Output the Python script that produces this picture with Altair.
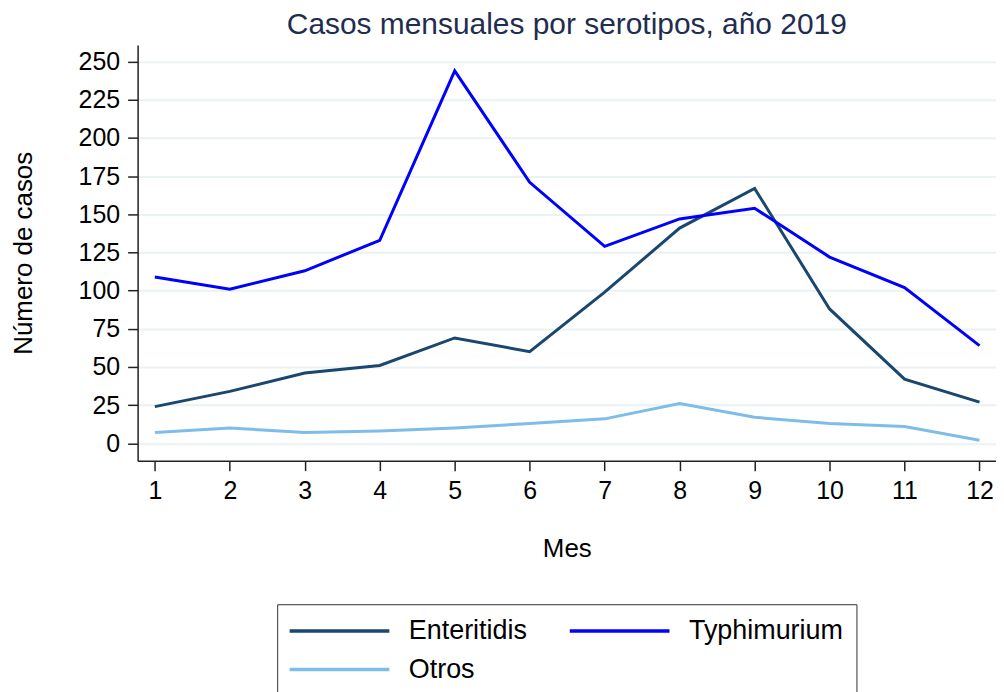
import altair as alt
import pandas as pd

months = list(range(1, 13))
series_names = ["Enteritidis", "Typhimurium", "Otros"]
enteritidis = [24, 34, 46, 51, 69, 60, 99, 141, 167, 88, 42, 27]
typhimurium = [109, 101, 113, 133, 244, 171, 129, 147, 154, 122, 102, 64]
otros = [7, 10, 7, 8, 10, 13, 16, 26, 17, 13, 11, 2]
y_ticks = [0, 25, 50, 75, 100, 125, 150, 175, 200, 225, 250]
colors = ["#1a476f", "#0000ff", "#7fbde9"]

rows = []
for name, vals in zip(series_names, [enteritidis, typhimurium, otros]):
    for m, v in zip(months, vals):
        rows.append({"Mes": m, "Casos": v, "Serotipo": name})
df = pd.DataFrame(rows)

FONT = "Liberation Sans"

chart = alt.Chart(df).mark_line(strokeWidth=3, clip=True).encode(
    x=alt.X("Mes:Q",
            scale=alt.Scale(domain=[0.77, 12.22], nice=False, zero=False),
            axis=alt.Axis(values=months, title="Mes", grid=False, format="d",
                          labelFlush=False)),
    y=alt.Y("Casos:Q",
            scale=alt.Scale(domain=[-11.4, 261.0], nice=False, zero=False),
            axis=alt.Axis(values=y_ticks, title="Número de casos", grid=True,
                          labelFlush=False)),
    color=alt.Color("Serotipo:N",
                    scale=alt.Scale(domain=series_names, range=colors),
                    sort=series_names,
                    legend=alt.Legend(title=None, orient="none", legendX=140, legendY=561,
                                      columns=2, direction="horizontal",
                                      symbolType="M-1.4,0H8.6", symbolSize=400,
                                      symbolStrokeWidth=3.5, labelFontSize=27,
                                      labelFont=FONT, labelColor="#000000",
                                      labelOffset=92, columnPadding=35, rowPadding=11,
                                      padding=13, strokeColor="#333333",
                                      fillColor="#ffffff", labelLimit=400)),
).properties(
    width=861,
    height=417,
    title=alt.TitleParams("Casos mensuales por serotipos, año 2019", fontSize=30,
                          font=FONT, color="#1f2d50", fontWeight="normal",
                          anchor="middle", offset=5),
    padding={"left": 130, "top": 36, "right": 0, "bottom": 231},
    autosize=alt.AutoSizeParams(type="none"),
).configure_view(
    stroke=None,
).configure_axis(
    labelFont=FONT, titleFont=FONT, labelFontSize=25, titleFontSize=26,
    labelColor="#000000", titleColor="#000000", titleFontWeight="normal",
    domainColor="#222222", domainWidth=1.5, tickColor="#222222", tickWidth=1.5,
    tickSize=10, gridColor="#eaf2f3", gridWidth=2,
).configure_axisY(
    labelPadding=8, titlePadding=42,
).configure_axisX(
    labelPadding=8, titlePadding=32,
)

chart.save("out.html", embed_options={"renderer": "svg", "actions": False})
